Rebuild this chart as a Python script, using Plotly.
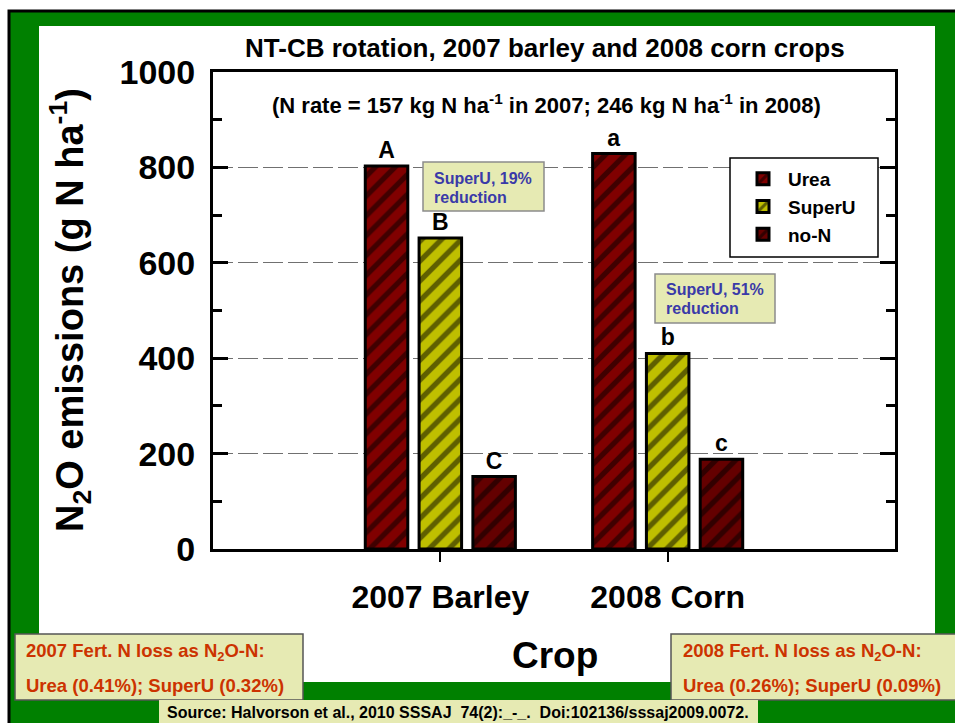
import plotly.graph_objects as go

# ---------------- data ----------------
crops = ["2007 Barley", "2008 Corn"]
urea = [803, 829]
superu = [652, 410]
no_n = [152, 188]
urea_letters = ["A", "a"]
superu_letters = ["B", "b"]
non_letters = ["C", "c"]
series_names = ["Urea", "SuperU", "no-N"]
series_colors = ["#800000", "#BFBF00", "#640000"]
y_ticks = [0, 200, 400, 600, 800, 1000]

FONT = "Liberation Sans, Arial, Helvetica, sans-serif"

# plot area in pixels
L, R, T, B = 213, 895, 72, 549
W, H = 955, 723


def px(x):
    return (x - L) / (R - L)


def py(y):
    return (B - y) / (B - T)


fig = go.Figure()
for name, vals, letters, col in zip(series_names, [urea, superu, no_n],
                                    [urea_letters, superu_letters, non_letters],
                                    series_colors):
    fig.add_trace(go.Bar(
        name=name, x=crops, y=vals, text=letters,
        textposition="outside", cliponaxis=False, constraintext="none",
        textfont=dict(family=FONT, size=23, color="black", weight="bold"),
        marker=dict(color=col, line=dict(color="black", width=3),
                    pattern=dict(shape="/", fgcolor="black", bgcolor=col,
                                 size=14, solidity=0.38)),
    ))

shapes = [
    # green frame
    dict(type="rect", xref="paper", yref="paper", x0=px(9), x1=px(962),
         y0=py(11), y1=py(730), fillcolor="#008000",
         line=dict(color="black", width=3), layer="below"),
    # white panel
    dict(type="rect", xref="paper", yref="paper", x0=px(39), x1=px(935),
         y0=py(26), y1=py(682), fillcolor="white", line=dict(width=0),
         layer="below"),
    # legend frame
    dict(type="rect", xref="paper", yref="paper", x0=px(730), x1=px(878),
         y0=py(158), y1=py(257), fillcolor="white",
         line=dict(color="black", width=1.5), layer="above"),
    # reduction boxes
    dict(type="rect", xref="paper", yref="paper", x0=px(423), x1=px(544),
         y0=py(162), y1=py(211), fillcolor="#E6EAB3",
         line=dict(color="#8C8C8C", width=1.5), layer="above"),
    dict(type="rect", xref="paper", yref="paper", x0=px(655), x1=px(775),
         y0=py(274), y1=py(323), fillcolor="#E6EAB3",
         line=dict(color="#8C8C8C", width=1.5), layer="above"),
    # bottom boxes
    dict(type="rect", xref="paper", yref="paper", x0=px(15), x1=px(303),
         y0=py(634), y1=py(700), fillcolor="#E6EAB3",
         line=dict(color="#555555", width=1.5), layer="above"),
    dict(type="rect", xref="paper", yref="paper", x0=px(671), x1=px(962),
         y0=py(634), y1=py(700), fillcolor="#E6EAB3",
         line=dict(color="#555555", width=1.5), layer="above"),
    dict(type="rect", xref="paper", yref="paper", x0=px(159), x1=px(758),
         y0=py(700), y1=py(730), fillcolor="#E6EAB3",
         line=dict(width=0), layer="above"),
]

ann = []


def add_text(text, x, y, size, color="black", xanchor="center", angle=0):
    ann.append(dict(text=text, x=px(x), y=py(y), xref="paper", yref="paper",
                    showarrow=False, xanchor=xanchor, yanchor="middle",
                    textangle=angle,
                    font=dict(family=FONT, size=size, color=color, weight="bold")))


add_text("NT-CB rotation, 2007 barley and 2008 corn crops", 545, 48, 26)
add_text("(N rate = 157 kg N ha<sup>-1</sup> in 2007; 246 kg N ha<sup>-1</sup> in 2008)",
         546, 104, 22)
add_text("N<sub>2</sub>O emissions (g N ha<sup>-1</sup>)", 70, 310, 38, angle=-90)
add_text("Crop", 555, 655, 37)

blue = "#3A3AA8"
add_text("SuperU, 19%", 432, 178, 16, blue, "left")
add_text("reduction", 432, 197, 16, blue, "left")
add_text("SuperU, 51%", 664, 289, 16, blue, "left")
add_text("reduction", 664, 308, 16, blue, "left")

orange = "#CC3300"
add_text("2007 Fert. N loss as N<sub>2</sub>O-N:", 24, 652, 18.5, orange, "left")
add_text("Urea (0.41%); SuperU (0.32%)", 24, 685, 18.5, orange, "left")
add_text("2008 Fert. N loss as N<sub>2</sub>O-N:", 681, 652, 18.5, orange, "left")
add_text("Urea (0.26%); SuperU (0.09%)", 681, 685, 18.5, orange, "left")
add_text("Source: Halvorson et al., 2010 SSSAJ  74(2):_-_.  Doi:102136/sssaj2009.0072.",
         458, 712, 16)

fig.update_layout(
    width=W, height=H,
    margin=dict(l=L, r=W - R, t=T, b=H - B, pad=0),
    paper_bgcolor="white", plot_bgcolor="#F0F0F0",
    barmode="group", bargap=0.29, bargroupgap=0.21,
    shapes=shapes, annotations=ann,
    font=dict(family=FONT, color="black"),
    legend=dict(x=px(738), y=py(160), xanchor="left", yanchor="top",
                bgcolor="rgba(0,0,0,0)", borderwidth=0,
                font=dict(family=FONT, size=19, color="black", weight="bold"),
                itemwidth=40, tracegroupgap=0),
    showlegend=True,
)

fig.update_yaxes(
    range=[0, 1000], tickvals=y_ticks, ticks="inside", ticklen=15, tickwidth=3,
    tickcolor="black", showline=True, linecolor="black", linewidth=3,
    mirror="ticks", showgrid=True, gridcolor="#707070", gridwidth=1.3,
    griddash="20px,5px", zeroline=False, ticklabelstandoff=8,
    tickfont=dict(family=FONT, size=34, color="black", weight="bold"),
    minor=dict(dtick=100, ticks="inside", ticklen=9, tickwidth=3,
               tickcolor="black", showgrid=False),
)
fig.update_xaxes(
    range=[-1, 2], ticks="outside", ticklen=10, tickwidth=2, tickcolor="black",
    showline=True, linecolor="black", linewidth=3, mirror=True,
    showgrid=False, ticklabelstandoff=8,
    tickfont=dict(family=FONT, size=32, color="black", weight="bold"),
)

fig.write_html("out.html", config={"displayModeBar": False},
               post_script="document.body.style.margin='0px';"
                           "document.body.style.overflow='hidden';")
